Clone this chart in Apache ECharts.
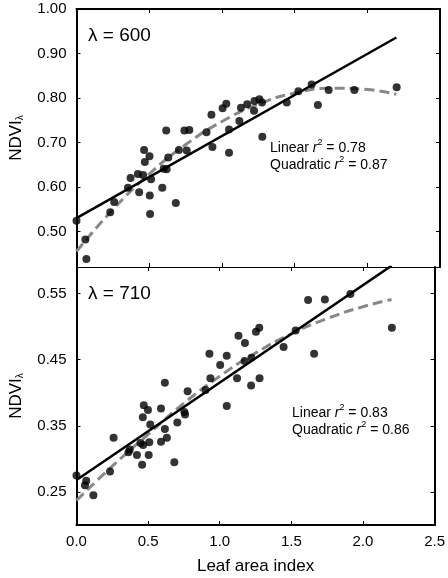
<!DOCTYPE html>
<html>
<head>
<meta charset="utf-8">
<script src="https://cdn.jsdelivr.net/npm/echarts@6/dist/echarts.min.js"></script>
<style>
  html, body { margin: 0; padding: 0; background: #fff; }
  #chart { width: 448px; height: 578px; }
</style>
</head>
<body>
<div id="chart"></div>
<script>
// 观测点 λ = 600 (叶面积指数, NDVI)
var laiTop = [0.00, 0.061, 0.068, 0.232, 0.259, 0.354, 0.372, 0.422, 0.431, 0.458, 0.465, 0.470, 0.502, 0.504, 0.506, 0.513,
    0.590, 0.600, 0.617, 0.620, 0.631, 0.683, 0.704, 0.742, 0.758, 0.776, 0.894, 0.928, 0.935, 1.005, 1.030, 1.049, 1.049,
    1.120, 1.131, 1.174, 1.221, 1.224, 1.258, 1.276, 1.278, 1.446, 1.526, 1.617, 1.660, 1.734, 1.911, 2.202];
var ndviTop = [0.524, 0.482, 0.438, 0.543, 0.566, 0.598, 0.620, 0.629, 0.588, 0.627, 0.683, 0.656, 0.669, 0.581, 0.539, 0.617,
    0.598, 0.641, 0.727, 0.640, 0.666, 0.564, 0.683, 0.727, 0.682, 0.728, 0.723, 0.762, 0.690, 0.777, 0.787, 0.729, 0.677,
    0.748, 0.778, 0.786, 0.771, 0.793, 0.797, 0.790, 0.713, 0.790, 0.815, 0.830, 0.784, 0.818, 0.818, 0.824];

// 观测点 λ = 710
var laiBot = [0.000, 0.059, 0.068, 0.118, 0.234, 0.259, 0.363, 0.372, 0.422, 0.447, 0.458, 0.463, 0.465, 0.470, 0.499, 0.504,
    0.508, 0.515, 0.590, 0.590, 0.617, 0.617, 0.631, 0.683, 0.704, 0.753, 0.758, 0.776, 0.901, 0.928, 0.935, 1.003, 1.049,
    1.049, 1.121, 1.131, 1.174, 1.176, 1.219, 1.222, 1.253, 1.276, 1.278, 1.446, 1.530, 1.617, 1.659, 1.734, 1.912, 2.202];
var ndviBot = [0.275, 0.260, 0.267, 0.245, 0.281, 0.332, 0.310, 0.314, 0.306, 0.324, 0.291, 0.363, 0.321, 0.381, 0.374, 0.306,
    0.325, 0.352, 0.376, 0.326, 0.345, 0.415, 0.332, 0.295, 0.355, 0.371, 0.367, 0.402, 0.404, 0.459, 0.422, 0.442, 0.380,
    0.456, 0.422, 0.486, 0.448, 0.475, 0.411, 0.453, 0.492, 0.498, 0.422, 0.469, 0.494, 0.540, 0.459, 0.541, 0.549, 0.498];

// 拟合线
var fitX = [0, 0.25, 0.5, 0.75, 1.0, 1.25, 1.5, 1.75, 2.0, 2.2];
var linTopX = [0, 2.2];
var linTop = [0.530, 0.936];
var quadTop = [0.455, 0.549, 0.629, 0.695, 0.747, 0.786, 0.811, 0.822, 0.819, 0.808];
var linBotX = [0, 2.2];
var linBot = [0.268, 0.592];
var quadBot = [0.237, 0.289, 0.337, 0.384, 0.425, 0.460, 0.489, 0.512, 0.530, 0.541];

// 刻度
var yTicksTop = [0.50, 0.60, 0.70, 0.80, 0.90, 1.00];
var yTicksBot = [0.25, 0.35, 0.45, 0.55];

var FONT = 'Liberation Sans, Arial, sans-serif';

function pairs(xs, ys) {
    var out = [];
    for (var i = 0; i < xs.length; i++) out.push([xs[i], ys[i]]);
    return out;
}

function xAxisOf(grid, pos, showLabel, lw) {
    return {
        type: 'value', gridIndex: grid, position: pos, min: 0, max: 2.5, interval: 0.5,
        axisLine: { show: true, onZero: false, lineStyle: { color: '#000', width: lw } },
        axisTick: { show: true, inside: true, length: 4, lineStyle: { color: '#000', width: 1 } },
        axisLabel: { show: showLabel, margin: 9, color: '#000', fontSize: 15, fontFamily: FONT,
            alignMaxLabel: 'center',
            formatter: function (v) { return v.toFixed(1); } },
        splitLine: { show: false }
    };
}

function yAxisOf(grid, pos, min, max, ticks, showLabel) {
    return {
        type: 'value', gridIndex: grid, position: pos, min: min, max: max,
        axisLine: { show: true, onZero: false, lineStyle: { color: '#000', width: 2 } },
        axisTick: { show: true, inside: true, length: 4, customValues: ticks, lineStyle: { color: '#000', width: 1 } },
        axisLabel: { show: showLabel, margin: 10, color: '#000', fontSize: 15, fontFamily: FONT, customValues: ticks,
            formatter: function (v) { return v.toFixed(2); } },
        splitLine: { show: false },
        name: showLabel ? 'NDVI{sub|λ}' : '',
        nameLocation: 'middle', nameGap: 51,
        nameTextStyle: { color: '#000', fontSize: 17, fontFamily: FONT,
            rich: { sub: { fontSize: 10, fontFamily: FONT, color: '#000', padding: [8, 0, 0, 0] } } }
    };
}

function r2Text(left, top, lin, quad) {
    var rich = {
        i: { fontStyle: 'italic', fontSize: 14, fontFamily: FONT, fill: '#000' },
        sup: { fontSize: 9, fontFamily: FONT, fill: '#000', padding: [0, 0, 12, 0] }
    };
    return {
        type: 'text', left: left, top: top,
        style: {
            text: 'Linear {i|r}{sup|2} = ' + lin + '\nQuadratic {i|r}{sup|2} = ' + quad,
            fontSize: 14, fontFamily: FONT, fill: '#000', lineHeight: 17, rich: rich
        }
    };
}

var chart = echarts.init(document.getElementById('chart'));

var option = {
    backgroundColor: '#fff',
    animation: false,
    grid: [
        { left: 73, right: 8, top: 9, height: 258 },
        { left: 73, right: 8, top: 267, height: 258 }
    ],
    xAxis: [
        xAxisOf(0, 'bottom', false, 1),
        xAxisOf(0, 'top', false, 2),
        Object.assign(xAxisOf(1, 'bottom', true, 2), {
            name: 'Leaf area index', nameLocation: 'middle', nameGap: 33,
            nameTextStyle: { color: '#000', fontSize: 17, fontFamily: FONT }
        }),
        xAxisOf(1, 'top', false, 1)
    ],
    yAxis: [
        yAxisOf(0, 'left', 0.42, 1.0, yTicksTop, true),
        yAxisOf(0, 'right', 0.42, 1.0, yTicksTop, false),
        yAxisOf(1, 'left', 0.2, 0.59, yTicksBot, true),
        yAxisOf(1, 'right', 0.2, 0.59, yTicksBot, false)
    ],
    graphic: [
        { type: 'text', left: 88, top: 26, style: { text: 'λ = 600', fontSize: 19, fontFamily: FONT, fill: '#000' } },
        { type: 'text', left: 88, top: 284, style: { text: 'λ = 710', fontSize: 19, fontFamily: FONT, fill: '#000' } },
        r2Text(270, 138, '0.78', '0.87'),
        r2Text(292, 403, '0.83', '0.86')
    ],
    series: [
        {
            type: 'line', xAxisIndex: 0, yAxisIndex: 0, data: pairs(fitX, quadTop), smooth: true,
            symbol: 'none', lineStyle: { color: '#888', width: 3, type: [10, 5] }, z: 2
        },
        {
            type: 'line', xAxisIndex: 0, yAxisIndex: 0, data: pairs(linTopX, linTop),
            symbol: 'none', lineStyle: { color: '#000', width: 2.5 }, z: 3
        },
        {
            type: 'scatter', xAxisIndex: 0, yAxisIndex: 0, data: pairs(laiTop, ndviTop),
            symbolSize: 8, itemStyle: { color: '#000' }, z: 4
        },
        {
            type: 'line', xAxisIndex: 2, yAxisIndex: 2, data: pairs(fitX, quadBot), smooth: true,
            symbol: 'none', lineStyle: { color: '#888', width: 3, type: [10, 5] }, z: 2
        },
        {
            type: 'line', xAxisIndex: 2, yAxisIndex: 2, data: pairs(linBotX, linBot),
            symbol: 'none', lineStyle: { color: '#000', width: 2.5 }, z: 3
        },
        {
            type: 'scatter', xAxisIndex: 2, yAxisIndex: 2, data: pairs(laiBot, ndviBot),
            symbolSize: 8, itemStyle: { color: '#000' }, z: 4
        }
    ]
};

chart.setOption(option);
</script>
</body>
</html>
